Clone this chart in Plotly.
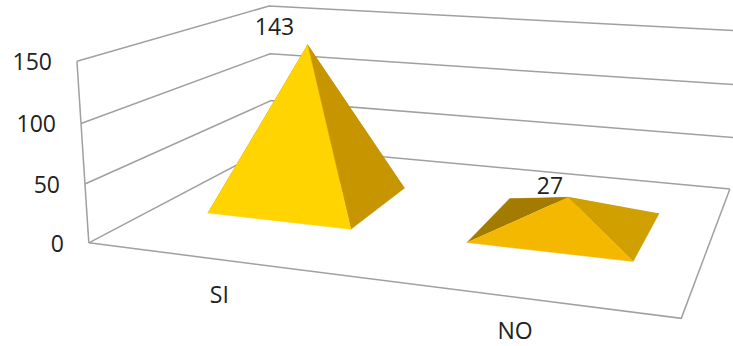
import numpy as np
import plotly.graph_objects as go

# Chart data
categories = ["SI", "NO"]
values = [143, 27]
value_ticks = [0, 50, 100, 150]

# Solid shape and label settings
half_width = 0.285
depth_front = 0.31
depth_back = 0.70
front_colors = ["#FFD400", "#F5B800"]
right_colors = ["#C69500", "#D09F00"]
left_colors = ["#A88000", "#A37B00"]
back_colors = ["#B58A00", "#B58A00"]
grid_color = "#A0A0A0"
text_color = "#222222"
font_family = "Open Sans"
font_size = 23

# Known positions of the box corners: (category axis, depth, value) -> page pixels
frame_world = [(0, 0, 0), (0, 0, 50), (0, 0, 100), (0, 0, 150),
               (0, 1, 0), (0, 1, 50), (0, 1, 100), (0, 1, 150),
               (2, 0, 0), (2, 1, 0), (2, 1, 150)]
frame_page = [(89, 243), (85, 184), (81, 123), (77, 61),
              (272, 147), (271, 100.4), (270, 54), (269, 6),
              (681, 319), (730, 188), (743.6, 31.6)]


def fit_camera(world, page):
    """Least-squares 3x4 projective camera with the last entry fixed at 1."""
    rows, rhs = [], []
    for (a, b, c), (u, v) in zip(world, page):
        rows.append([a, b, c, 1, 0, 0, 0, 0, -u * a, -u * b, -u * c])
        rhs.append(u)
        rows.append([0, 0, 0, 0, a, b, c, 1, -v * a, -v * b, -v * c])
        rhs.append(v)
    sol = np.linalg.lstsq(np.array(rows, float), np.array(rhs, float), rcond=None)[0]
    return np.append(sol, 1.0).reshape(3, 4)


camera = fit_camera(frame_world, frame_page)


def project(a, b, c):
    h = camera @ np.array([a, b, c, 1.0])
    return h[0] / h[2], h[1] / h[2]


fig = go.Figure()


def add_line(points):
    xy = [project(*p) for p in points]
    fig.add_trace(go.Scatter(x=[p[0] for p in xy], y=[p[1] for p in xy], mode="lines",
                             line=dict(color=grid_color, width=1.5),
                             hoverinfo="skip", showlegend=False))


def add_face(points, color):
    xy = [project(*p) for p in points]
    fig.add_trace(go.Scatter(x=[p[0] for p in xy], y=[p[1] for p in xy], mode="lines",
                             fill="toself", fillcolor=color, line=dict(color=color, width=0.5),
                             hoverinfo="skip", showlegend=False))


# Walls and floor outline
for tick in value_ticks:
    add_line([(0, 0, tick), (0, 1, tick), (2, 1, tick)])
add_line([(0, 0, 0), (0, 0, max(value_ticks))])
add_line([(0, 0, 0), (2, 0, 0), (2, 1, 0)])

# Pyramids, far faces first
for i, value in enumerate(values):
    cx = i + 0.5
    left, right = cx - half_width, cx + half_width
    fl = (left, depth_front, 0)
    fr = (right, depth_front, 0)
    br = (right, depth_back, 0)
    bl = (left, depth_back, 0)
    apex = (cx, (depth_front + depth_back) / 2, value)
    add_face([bl, br, apex], back_colors[i])
    add_face([fl, bl, apex], left_colors[i])
    add_face([fr, br, apex], right_colors[i])
    add_face([fl, fr, apex], front_colors[i])


def add_text(x, y, text):
    fig.add_trace(go.Scatter(x=[x], y=[y], mode="text", text=[text],
                             textposition="middle center",
                             textfont=dict(family=font_family, size=font_size, color=text_color),
                             hoverinfo="skip", showlegend=False))


# Value-axis labels, right-aligned against the left wall
for tick in value_ticks:
    x, y = project(0, 0, tick)
    fig.add_trace(go.Scatter(x=[x - 25], y=[y + 3], mode="text", text=[str(tick)],
                             textposition="middle left",
                             textfont=dict(family=font_family, size=font_size, color=text_color),
                             hoverinfo="skip", showlegend=False))

# Data labels above each apex and category labels under the front edge
label_offsets = [(-33, -15), (-18, -9)]
for i, value in enumerate(values):
    x, y = project(i + 0.5, (depth_front + depth_back) / 2, value)
    add_text(x + label_offsets[i][0], y + label_offsets[i][1], str(value))
category_page_shift = [(0, 38), (1, 36)]
for i, name in enumerate(categories):
    x, y = project(i + 0.5, 0, 0)
    add_text(x + category_page_shift[i][0], y + category_page_shift[i][1], name)

fig.update_layout(
    width=733, height=346, margin=dict(l=0, r=0, t=0, b=0),
    paper_bgcolor="white", plot_bgcolor="white", showlegend=False,
    xaxis=dict(range=[0, 733], visible=False, fixedrange=True),
    yaxis=dict(range=[346, 0], visible=False, fixedrange=True),
)
fig.write_html("out.html", config={"displayModeBar": False})
